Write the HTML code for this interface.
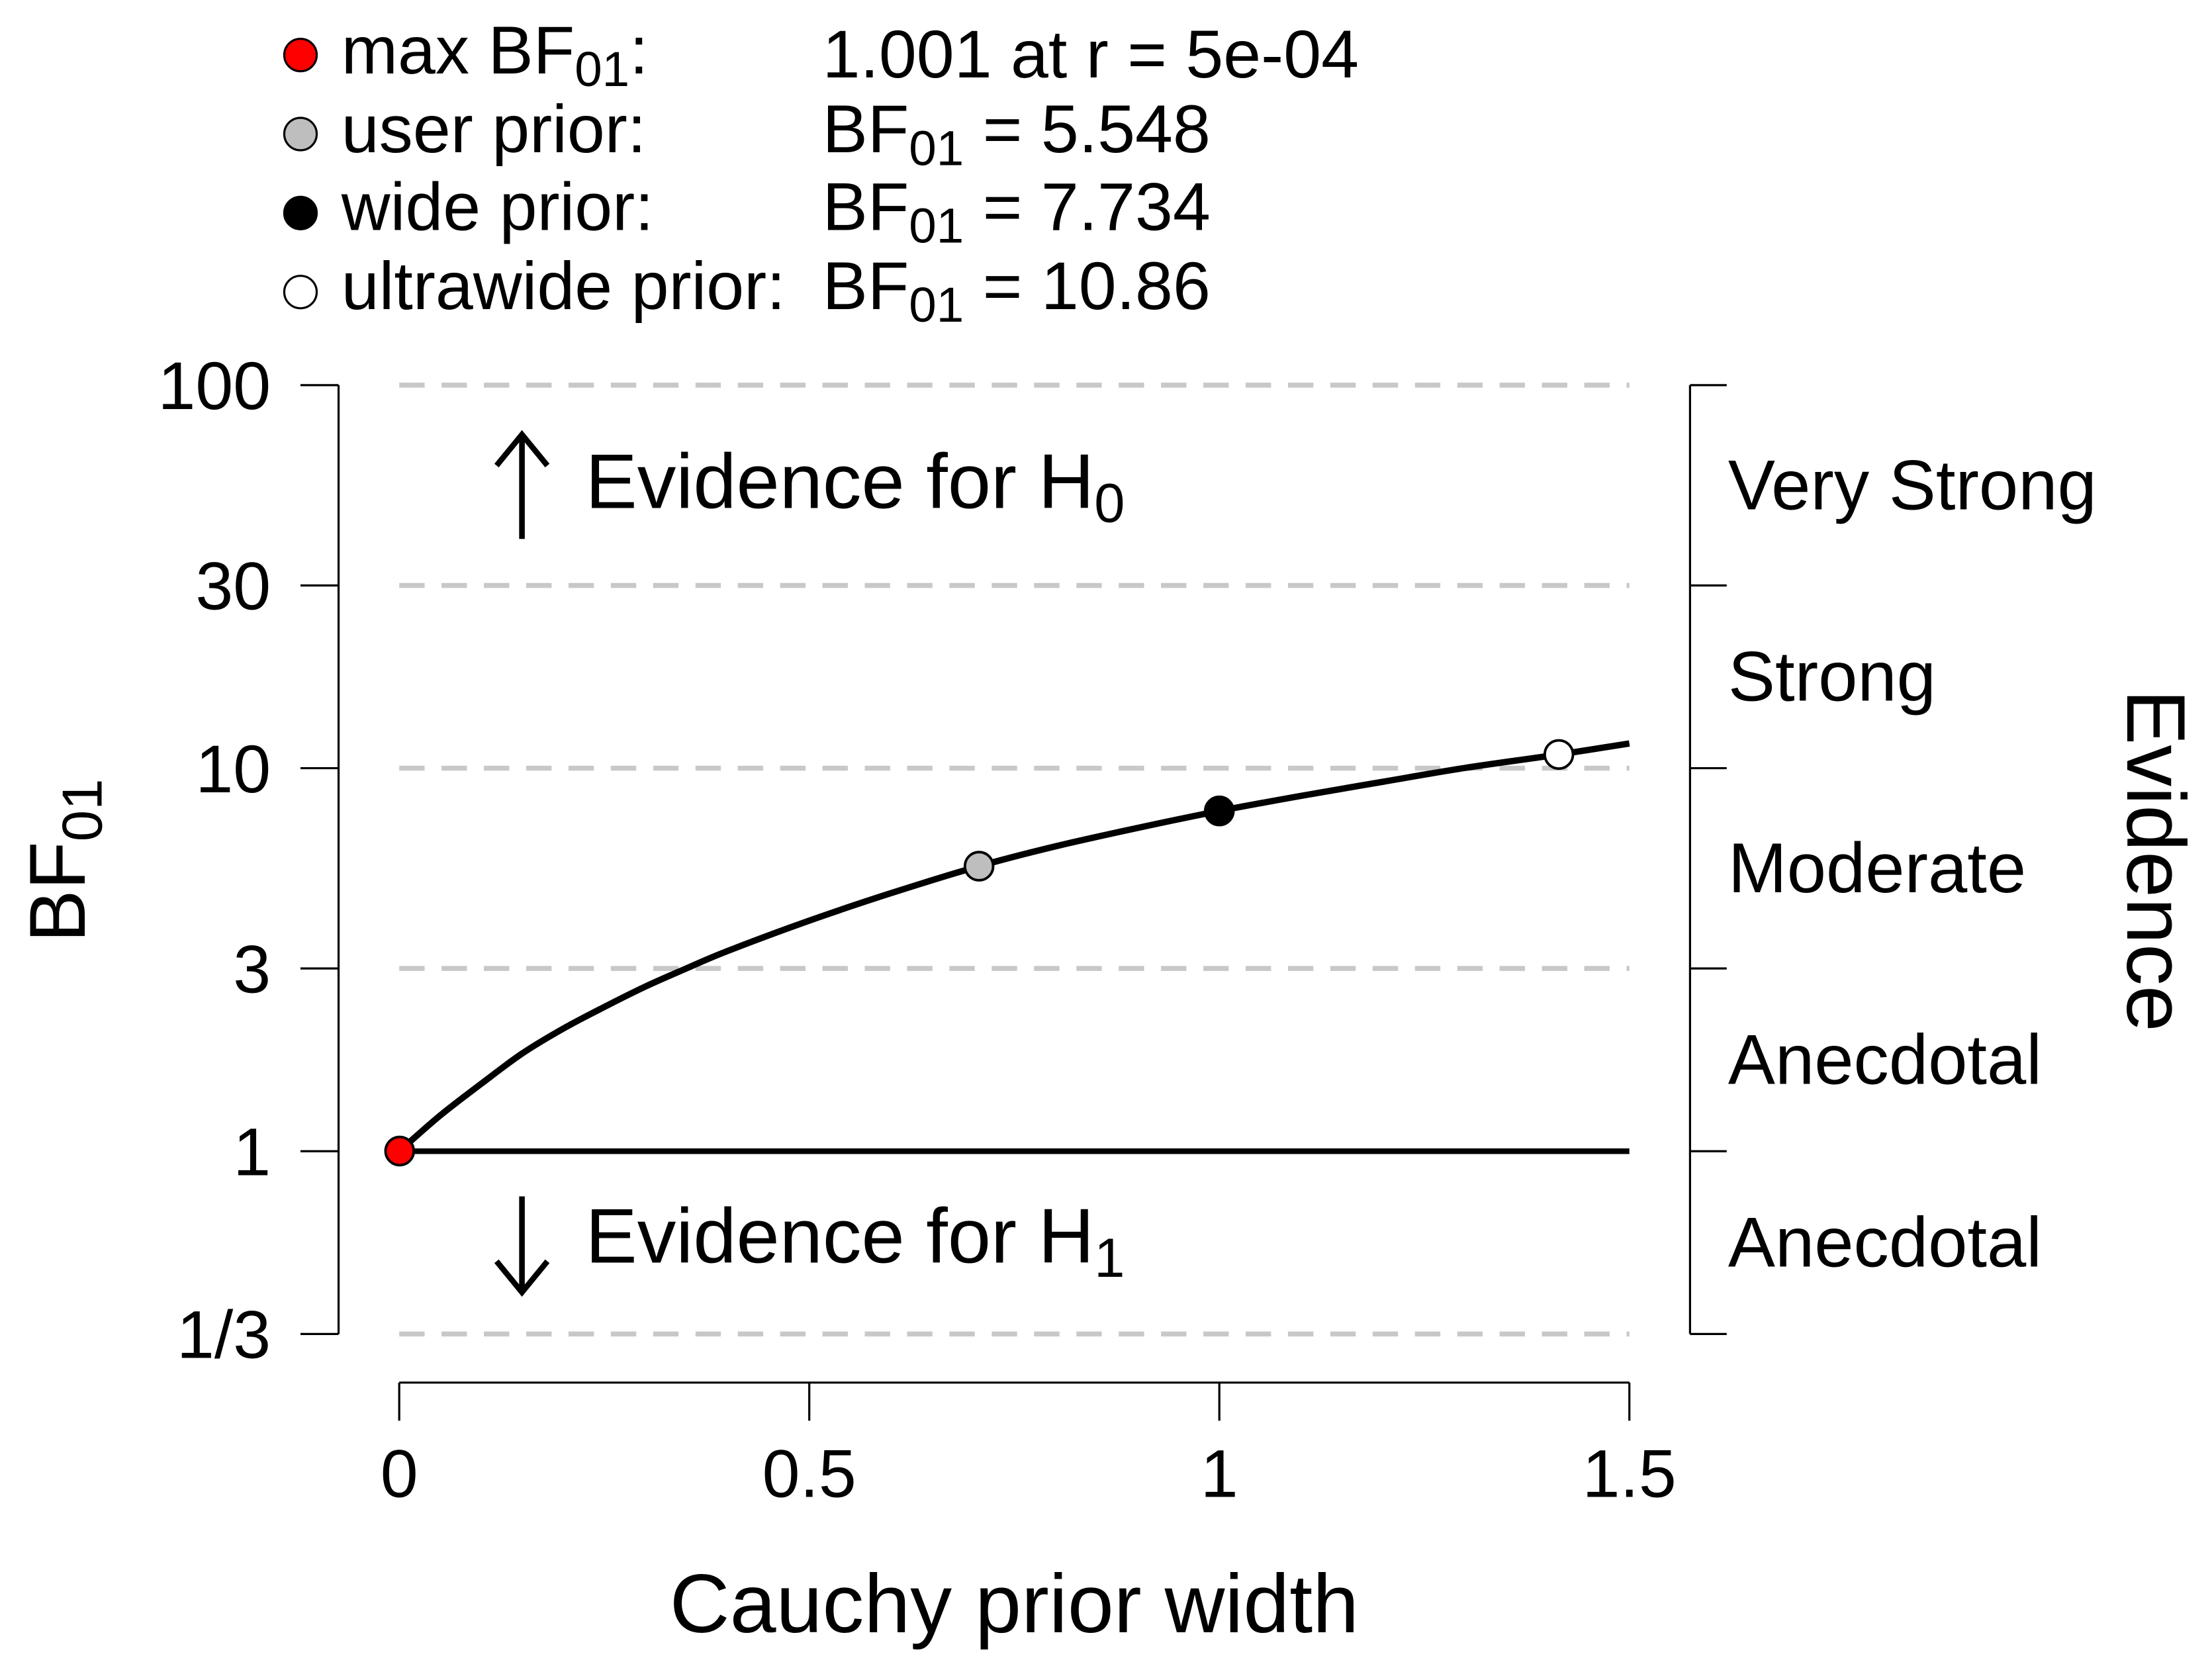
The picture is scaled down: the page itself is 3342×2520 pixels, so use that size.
<!DOCTYPE html>
<html><head><meta charset="utf-8"><style>
html,body{margin:0;padding:0;background:#fff;}
svg{display:block;}
text{font-family:"Liberation Sans",sans-serif;fill:#000;}
</style></head><body>
<svg id="chart" width="3342" height="2520" viewBox="0 0 1568 1182.3" preserveAspectRatio="none" xmlns="http://www.w3.org/2000/svg">
<g id="legend" font-size="48">
  <g>
    <circle cx="213" cy="39" r="11.5" fill="#ff0000" stroke="#000" stroke-width="1.5"/>
    <text x="242" y="52">max BF<tspan font-size="35" dy="9">01</tspan><tspan dy="-9">:</tspan></text>
    <text x="583" y="55">1.001 at r = 5e-04</text>
  </g>
  <g>
    <circle cx="213" cy="95" r="11.5" fill="#bebebe" stroke="#000" stroke-width="1.5"/>
    <text x="242" y="108">user prior:</text>
    <text x="583" y="108">BF<tspan font-size="35" dy="9">01</tspan><tspan dy="-9"> = 5.548</tspan></text>
  </g>
  <g>
    <circle cx="213" cy="151" r="11.5" fill="#000" stroke="#000" stroke-width="1.5"/>
    <text x="242" y="163">wide prior:</text>
    <text x="583" y="163">BF<tspan font-size="35" dy="9">01</tspan><tspan dy="-9"> = 7.734</tspan></text>
  </g>
  <g>
    <circle cx="213" cy="207" r="11.5" fill="#fff" stroke="#000" stroke-width="1.5"/>
    <text x="242" y="219">ultrawide prior:</text>
    <text x="583" y="219">BF<tspan font-size="35" dy="9">01</tspan><tspan dy="-9"> = 10.86</tspan></text>
  </g>
</g>
<g id="plot"></g>
</svg>
<script>
const yTickValues = [100, 30, 10, 3, 1, 1/3];
const yTickLabels = ["100", "30", "10", "3", "1", "1/3"];
const xTickValues = [0, 0.5, 1, 1.5];
const xTickLabels = ["0", "0.5", "1", "1.5"];
const curveR = [0, 0.05, 0.1, 0.15, 0.2, 0.25, 0.3, 0.35, 0.4, 0.5, 0.6, 0.707, 0.8, 0.9, 1, 1.1, 1.2, 1.3, 1.414, 1.5];
const curveBF = [1, 1.24, 1.5, 1.8, 2.09, 2.38, 2.69, 3.0, 3.33, 4.0, 4.72, 5.548, 6.25, 6.98, 7.734, 8.47, 9.22, 10.02, 10.86, 11.6];
const pointR = [0.0005, 0.707, 1, 1.414];
const pointBF = [1.001, 5.548, 7.734, 10.86];
const pointFill = ["#ff0000", "#bebebe", "#000000", "#ffffff"];
const evidenceLabels = ["Very Strong", "Strong", "Moderate", "Anecdotal", "Anecdotal"];
const evidenceMid = [Math.sqrt(3000), Math.sqrt(300), Math.sqrt(30), Math.sqrt(3), Math.sqrt(1/3)];

const NS = "http://www.w3.org/2000/svg";
const g = document.getElementById("plot");
function X(r){ return 283 + r * (1155 - 283) / 1.5; }
function Y(v){ return 816 - Math.log10(v) * 271.5; }
function el(tag, attrs, parent){ const e = document.createElementNS(NS, tag); for (const k in attrs) e.setAttribute(k, attrs[k]); (parent||g).appendChild(e); return e; }

yTickValues.forEach((v, i) => {
  const l = el("line", {x1: 283, x2: 1155, y1: Y(v), y2: Y(v), stroke: v === 1 ? "#000" : "#c8c8c8", "stroke-width": v === 1 ? 4 : 3.5, "stroke-dasharray": v === 1 ? "none" : "18 12"});
  
  
});
const ya = el("line", {x1: 240, x2: 240, y1: Y(100), y2: Y(1/3), stroke: "#000", "stroke-width": 1.5});


yTickValues.forEach((v, i) => {
  el("line", {x1: 213, x2: 240, y1: Y(v), y2: Y(v), stroke: "#000", "stroke-width": 1.5});
  const t = el("text", {x: 192, y: Y(v) + 17, "text-anchor": "end", "font-size": 48});
  t.textContent = yTickLabels[i];
  
  
});
const ra = el("line", {x1: 1198, x2: 1198, y1: Y(100), y2: Y(1/3), stroke: "#000", "stroke-width": 1.5});


yTickValues.forEach(v => el("line", {x1: 1198, x2: 1224, y1: Y(v), y2: Y(v), stroke: "#000", "stroke-width": 1.5}));
evidenceLabels.forEach((s, i) => {
  const t = el("text", {x: 1225, y: Y(evidenceMid[i]) + 17, "font-size": 50});
  t.textContent = s;
  
  
});
const xa = el("line", {x1: X(0), x2: X(1.5), y1: 980, y2: 980, stroke: "#000", "stroke-width": 1.5});


xTickValues.forEach((v, i) => {
  el("line", {x1: X(v), x2: X(v), y1: 980, y2: 1007, stroke: "#000", "stroke-width": 1.5});
  const t = el("text", {x: X(v), y: 1061, "text-anchor": "middle", "font-size": 48});
  t.textContent = xTickLabels[i];
  
  
});
const P = curveR.map((r, i) => [X(r), Y(curveBF[i])]);
let d = "M" + P[0][0].toFixed(2) + "," + P[0][1].toFixed(2);
for (let i = 0; i < P.length - 1; i++) {
  const p0 = P[Math.max(0, i - 1)], p1 = P[i], p2 = P[i + 1], p3 = P[Math.min(P.length - 1, i + 2)];
  const c1 = [p1[0] + (p2[0] - p0[0]) / 6, p1[1] + (p2[1] - p0[1]) / 6];
  const c2 = [p2[0] - (p3[0] - p1[0]) / 6, p2[1] - (p3[1] - p1[1]) / 6];
  d += "C" + c1.map(n => n.toFixed(2)).join(",") + " " + c2.map(n => n.toFixed(2)).join(",") + " " + p2.map(n => n.toFixed(2)).join(",");
}
const c = el("path", {d: d, fill: "none", stroke: "#000", "stroke-width": 4.5, "stroke-linejoin": "round"});


pointR.forEach((r, i) => {
  const p = el("circle", {cx: X(r), cy: Y(pointBF[i]), r: 10, fill: pointFill[i], stroke: "#000", "stroke-width": 1.8});
  
  
});
const a1 = el("path", {d: "M370,382 L370,310 M352,330 L370,308 L388,330", fill: "none", stroke: "#000", "stroke-width": 4});


const a2 = el("path", {d: "M370,848 L370,914 M352,894 L370,916 L388,894", fill: "none", stroke: "#000", "stroke-width": 4});


const e0 = el("text", {x: 415, y: 360, "font-size": 55});
e0.innerHTML = 'Evidence for H<tspan font-size="39" dy="10">0</tspan>';


const e1 = el("text", {x: 415, y: 895, "font-size": 55});
e1.innerHTML = 'Evidence for H<tspan font-size="39" dy="10">1</tspan>';


const xt = el("text", {x: 719, y: 1157, "text-anchor": "middle", "font-size": 59});
xt.textContent = "Cauchy prior width";


const yt = el("text", {x: 0, y: 0, "text-anchor": "middle", "font-size": 56, transform: "translate(60,610) rotate(-90)"});
yt.innerHTML = 'BF<tspan font-size="40" dy="12">01</tspan>';


const rt = el("text", {x: 0, y: 0, "text-anchor": "middle", "font-size": 59, transform: "translate(1508,610) rotate(90)"});
rt.textContent = "Evidence";


</script>
</body></html>
